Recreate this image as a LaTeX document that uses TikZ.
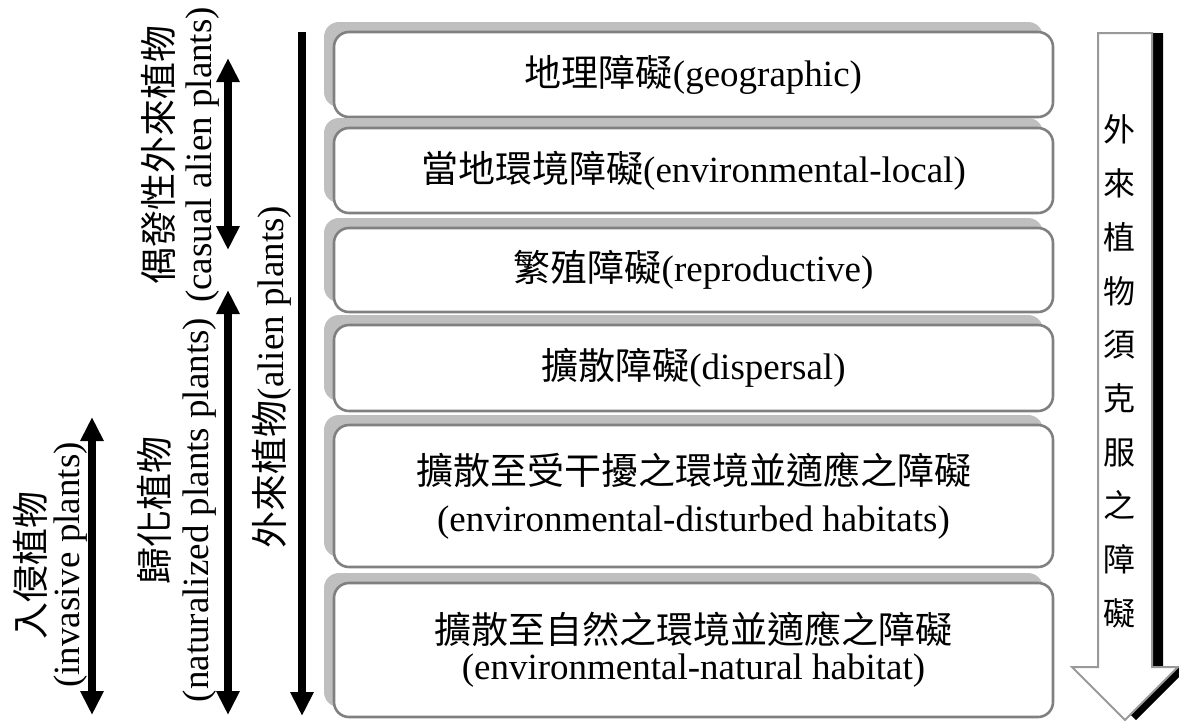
\documentclass[tikz,border=0pt]{standalone}
\usepackage{fontspec}
\setmainfont{Liberation Serif}
\newfontfamily\cjk{Noto Sans CJK TC}
\usetikzlibrary{arrows.meta,shadows}

\begin{document}
\begin{tikzpicture}[x=0.5pt, y=-0.5pt, >={Triangle[width=11pt,length=12pt]},
  barrier/.style={draw=gray, line width=1.3pt, fill=white, rounded corners=7.5pt,
    minimum width=359.5pt, inner sep=0pt, align=center,
    drop shadow={shadow xshift=-5pt, shadow yshift=5pt, fill=gray!50, opacity=1},
    font=\fontsize{18.5}{22}\selectfont},
  plantarrow/.style={line width=4pt},
  plantlabel/.style={rotate=90, align=center}]
\useasboundingbox (0,0) rectangle (1179,720);

% barriers
\node[barrier, minimum height=42.5pt] (geo) at (693.5,74.5) {{\cjk 地理障礙}(geographic)};
\node[barrier, minimum height=42.5pt] (local) at (693.5,170.5) {{\cjk 當地環境障礙}(environmental-local)};
\node[barrier, minimum height=42pt] (repro) at (693.5,270) {{\cjk 繁殖障礙}(reproductive)};
\node[barrier, minimum height=43pt] (disp) at (693.5,368) {{\cjk 擴散障礙}(dispersal)};
\node[barrier, minimum height=71pt, font=\fontsize{18.5}{23.5}\selectfont] (dist) at (693.5,496)
  {{\cjk 擴散至受干擾之環境並適應之障礙}\\(environmental-disturbed habitats)};
\node[barrier, minimum height=67pt, font=\fontsize{18.5}{18}\selectfont] (nat) at (693.5,650)
  {{\cjk 擴散至自然之環境並適應之障礙}\\(environmental-natural habitat)};

% plant groups
\coordinate (invtop) at (92,417);
\coordinate (invbot) at (92,715);
\coordinate (castop) at (228,58);
\coordinate (casbot) at (228,250);
\coordinate (nattop) at (228,290);
\coordinate (natbot) at (228,715);
\coordinate (alientop) at (302,32);
\coordinate (alienbot) at (302,716);
\draw[plantarrow, <->] (invtop) -- (invbot);
\draw[plantarrow, <->] (castop) -- (casbot);
\draw[plantarrow, <->] (nattop) -- (natbot);
\draw[plantarrow, ->] (alientop) -- (alienbot);

\node[plantlabel, font=\fontsize{18.5}{17.5}\selectfont] (invlabel) at (50,565)
  {{\cjk 入侵植物}\\(invasive plants)};
\node[plantlabel, font=\fontsize{18.5}{20}\selectfont] (natlabel) at (177,510)
  {{\cjk 歸化植物}\\(naturalized plants plants)};
\node[plantlabel, font=\fontsize{18.5}{19.5}\selectfont] (caslabel) at (180,155)
  {{\cjk 偶發性外來植物}\\(casual alien plants)};
\node[plantlabel, font=\fontsize{18.5}{22}\selectfont] (alienlabel) at (272,377)
  {{\cjk 外來植物}(alien plants)};

% big arrow on the right
\fill[black, xshift=5.5pt] (1098,33) -- (1152,33) -- (1152,667) -- (1178,667)
  -- (1125,720) -- (1072,667) -- (1098,667) -- cycle;
\draw[gray!80, line width=1pt, fill=white] (1098,33) -- (1152,33) -- (1152,667) -- (1178,667)
  -- (1125,720) -- (1072,667) -- (1098,667) -- cycle;
\node[align=center, font=\cjk\fontsize{16}{26.85}\selectfont] (overcome) at (1119,371.5)
  {外\\來\\植\\物\\須\\克\\服\\之\\障\\礙};
\end{tikzpicture}
\end{document}
